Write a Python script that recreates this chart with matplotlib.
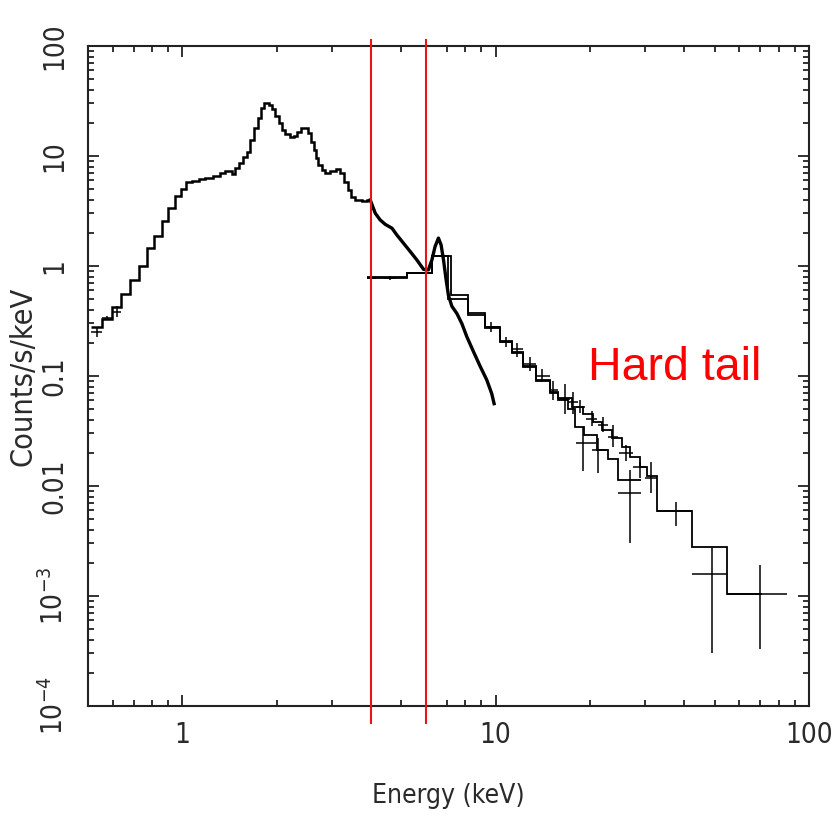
import numpy as np
import matplotlib
matplotlib.use("Agg")
import matplotlib.pyplot as plt
from matplotlib import font_manager
from matplotlib.ticker import LogLocator, NullFormatter
from matplotlib.transforms import blended_transform_factory

# soft band spectrum, binned (keV edges, counts/s/keV)
SOFT_EDGES = [0.513, 0.554, 0.597, 0.639, 0.682, 0.729, 0.772, 0.814, 0.861, 0.900,
              0.945, 0.991, 1.030, 1.074, 1.127, 1.18, 1.256, 1.322, 1.371, 1.44,
              1.47, 1.512, 1.568, 1.609, 1.648, 1.697, 1.739, 1.782, 1.817, 1.885,
              1.932, 1.980, 2.029, 2.080, 2.131, 2.199, 2.265, 2.322, 2.391, 2.528,
              2.573, 2.623, 2.676, 2.721, 2.790, 2.858, 2.966, 3.100, 3.176, 3.270,
              3.368, 3.452, 3.563, 3.743, 3.884, 3.98]
SOFT_RATE = [0.28, 0.33, 0.42, 0.56, 0.75, 1.00, 1.45, 1.87, 2.58, 3.35,
             4.36, 5.04, 5.76, 5.97, 6.2, 6.25, 6.6, 6.95, 7.3, 6.85,
             7.7, 8.6, 9.7, 10.9, 14.0, 17.8, 22.0, 27.0, 30.0, 29.0,
             26.5, 23.0, 19.8, 17.2, 15.8, 14.8, 15.2, 16.6, 17.8, 16.1,
             13.5, 11.3, 9.5, 8.3, 7.5, 7.05, 7.35, 7.6, 6.95, 5.84,
             4.9, 4.27, 3.98, 3.92, 3.98]

# soft band above 4 keV, finely binned
SOFT_HI_E = [3.98, 4.13, 4.28, 4.44, 4.67, 4.84, 5.08, 5.34, 5.61, 5.89, 6.10, 6.26,
             6.41, 6.57, 6.70, 6.82, 6.95, 7.07, 7.25, 7.52, 7.80, 8.09, 8.50, 8.93,
             9.37, 9.72, 9.89]
SOFT_HI_RATE = [3.98, 3.01, 2.62, 2.39, 2.20, 1.91, 1.61, 1.35, 1.13, 0.93, 0.92, 1.13,
                1.50, 1.79, 1.55, 1.13, 0.75, 0.54, 0.43, 0.37, 0.30, 0.228, 0.166, 0.122,
                0.092, 0.069, 0.056]

# soft band data points
SOFT_X = [0.534, 0.575, 0.619]
SOFT_Y = [0.252, 0.335, 0.384]
SOFT_XLO = [0.513, 0.554, 0.597]
SOFT_XHI = [0.554, 0.597, 0.639]
SOFT_YLO = [0.228, 0.32, 0.345]
SOFT_YHI = [0.28, 0.35, 0.43]

# hard band, first detector (model steps)
HARD_A_EDGES = [3.88, 5.21, 6.26, 7.19, 8.19, 9.26, 10.34, 11.26, 12.27, 13.47, 14.92,
                15.86, 17.5, 19.0, 20.4, 21.9, 23.5, 25.3, 26.8, 28.9, 30.5, 32.7,
                42.3, 54.9, 71.0]
HARD_A_RATE = [0.78, 0.87, 1.23, 0.54, 0.37, 0.28, 0.208, 0.166, 0.123, 0.092,
               0.072, 0.063, 0.0527, 0.045, 0.038, 0.032, 0.027, 0.0225, 0.0185,
               0.0150, 0.0122, 0.0059, 0.0028, 0.00105]

# hard band, second detector (model steps)
HARD_B_EDGES = [3.88, 5.21, 6.26, 7.07, 8.19, 9.26, 10.34, 11.26, 12.27, 13.47, 14.92,
                15.86, 17.0, 17.9, 19.2, 21.0, 22.8, 24.6, 29.2]
HARD_B_RATE = [0.79, 0.86, 1.22, 0.50, 0.36, 0.275, 0.205, 0.163, 0.121, 0.090,
               0.070, 0.060, 0.050, 0.034, 0.029, 0.0213, 0.0174, 0.0114]

# hard band data points
HARD_A_X = [4.0, 4.6, 9.7, 10.8, 11.7, 12.9, 14.1, 15.3, 16.6, 17.6, 18.6, 20.3,
            22.0, 23.7, 26.1, 28.8, 31.3, 37.6, 48.9, 69.8]
HARD_A_Y = [0.78, 0.78, 0.28, 0.205, 0.175, 0.128, 0.10, 0.075, 0.062, 0.058, 0.0527,
            0.041, 0.036, 0.028, 0.0199, 0.0150, 0.0118, 0.0059, 0.00159, 0.00104]
HARD_A_XLO = [3.88, 4.4, 9.26, 10.34, 11.26, 12.27, 13.47, 14.92, 15.86, 17.0, 18.0,
              19.5, 21.2, 22.9, 24.8, 27.5, 30.0, 32.7, 42.3, 54.9]
HARD_A_XHI = [4.15, 4.8, 10.34, 11.26, 12.27, 13.47, 14.92, 15.86, 17.3, 18.3, 19.3,
              21.1, 22.9, 24.6, 27.4, 30.2, 32.7, 42.3, 54.9, 84.9]
HARD_A_YLO = [0.74, 0.75, 0.25, 0.185, 0.15, 0.11, 0.088, 0.060, 0.045, 0.045, 0.046,
              0.035, 0.031, 0.0228, 0.0170, 0.0118, 0.0086, 0.0043, 0.00030, 0.00033]
HARD_A_YHI = [0.83, 0.81, 0.31, 0.225, 0.20, 0.148, 0.115, 0.089, 0.085, 0.072, 0.060,
              0.048, 0.042, 0.036, 0.0235, 0.0166, 0.0166, 0.0072, 0.0028, 0.0019]

HARD_B_X = [19.05, 21.2, 26.8]
HARD_B_Y = [0.0245, 0.0213, 0.0086]
HARD_B_XLO = [18.0, 20.3, 24.6]
HARD_B_XHI = [20.9, 22.6, 29.2]
HARD_B_YLO = [0.0136, 0.0131, 0.0030]
HARD_B_YHI = [0.0346, 0.0274, 0.0139]

BAND_LIMITS = [4.0, 6.0]

X_TICKS = [1, 10, 100]
X_TICK_LABELS = ["1", "10", "100"]
Y_TICKS = [1e-4, 1e-3, 1e-2, 1e-1, 1, 10, 100]
Y_TICK_LABELS = [r"$\mathregular{10^{-4}}$", r"$\mathregular{10^{-3}}$",
                 "0.01", "0.1", "1", "10", "100"]

_names = {f.name for f in font_manager.fontManager.ttflist}
AXIS_FONT = "Liberation Sans Narrow" if "Liberation Sans Narrow" in _names else "DejaVu Sans"
TEXT_COLOR = "#2a2a2a"

plt.rcParams["font.family"] = [AXIS_FONT, "DejaVu Sans"]
plt.rcParams["font.stretch"] = "condensed"
plt.rcParams["mathtext.fontset"] = "custom"
plt.rcParams["mathtext.rm"] = AXIS_FONT


def draw_points(ax, x, y, xlo, xhi, ylo, yhi):
    x, y = np.asarray(x), np.asarray(y)
    xerr = [x - np.asarray(xlo), np.asarray(xhi) - x]
    yerr = [y - np.asarray(ylo), np.asarray(yhi) - y]
    ax.errorbar(x, y, xerr=xerr, yerr=yerr, fmt="none", ecolor="k",
                elinewidth=1.1, capsize=0, zorder=3)


def format_ax(ax):
    ax.set_xscale("log")
    ax.set_yscale("log")
    ax.set_xlim(0.5, 100)
    ax.set_ylim(1e-4, 100)

    ax.set_xticks(X_TICKS, X_TICK_LABELS)
    ax.set_yticks(Y_TICKS, Y_TICK_LABELS)
    ax.xaxis.set_minor_locator(LogLocator(base=10, subs=np.arange(2, 10)))
    ax.yaxis.set_minor_locator(LogLocator(base=10, subs=np.arange(2, 10)))
    ax.xaxis.set_minor_formatter(NullFormatter())
    ax.yaxis.set_minor_formatter(NullFormatter())

    ax.tick_params(which="both", direction="in", top=True, right=True,
                   color="#222222", width=1.3)
    ax.tick_params(which="major", length=8)
    ax.tick_params(which="minor", length=4.5)
    ax.tick_params(axis="x", which="major", pad=11, labelsize=20, labelcolor=TEXT_COLOR)
    ax.tick_params(axis="y", which="major", pad=14, labelsize=20, labelcolor=TEXT_COLOR,
                   labelrotation=90)
    for label in ax.get_yticklabels():
        label.set_verticalalignment("center")

    for spine in ax.spines.values():
        spine.set_linewidth(1.5)
        spine.set_color("#222222")

    ax.set_xlabel("Energy (keV)", fontsize=19, color=TEXT_COLOR)
    ax.set_ylabel("Counts/s/keV", fontsize=22, color=TEXT_COLOR)
    ax.xaxis.set_label_coords(0.5, -0.117)
    ax.yaxis.set_label_coords(-0.09, 0.5)
    ax.xaxis.label.set_verticalalignment("top")
    ax.yaxis.label.set_verticalalignment("center")


fig = plt.figure(figsize=(8.33, 8.19), dpi=100)
ax = fig.add_axes([0.1056, 0.138, 0.8655, 0.806])

# model / binned spectra
ax.stairs(SOFT_RATE, SOFT_EDGES, baseline=None, color="k", lw=1.8, zorder=2)
ax.plot(SOFT_HI_E, SOFT_HI_RATE, color="k", lw=2.4, zorder=2)
ax.stairs(HARD_A_RATE, HARD_A_EDGES, baseline=None, color="k", lw=1.3, zorder=2)
ax.stairs(HARD_B_RATE, HARD_B_EDGES, baseline=None, color="k", lw=1.3, zorder=2)

# data crosses
draw_points(ax, SOFT_X, SOFT_Y, SOFT_XLO, SOFT_XHI, SOFT_YLO, SOFT_YHI)
draw_points(ax, HARD_A_X, HARD_A_Y, HARD_A_XLO, HARD_A_XHI, HARD_A_YLO, HARD_A_YHI)
draw_points(ax, HARD_B_X, HARD_B_Y, HARD_B_XLO, HARD_B_XHI, HARD_B_YLO, HARD_B_YHI)

# energy band markers, drawn slightly past the frame
trans = blended_transform_factory(ax.transData, ax.transAxes)
for e in BAND_LIMITS:
    ax.plot([e, e], [-0.026, 1.009], color="#e8141c", lw=1.5, transform=trans,
            clip_on=False, zorder=4)

ax.text(19.7, 0.092, "Hard tail", color="#ff0000", fontsize=33.5,
        family=["Liberation Sans", "DejaVu Sans"], stretch="normal",
        ha="left", va="baseline", zorder=5)

format_ax(ax)

fig.savefig("out.png", dpi=100, facecolor="white")
